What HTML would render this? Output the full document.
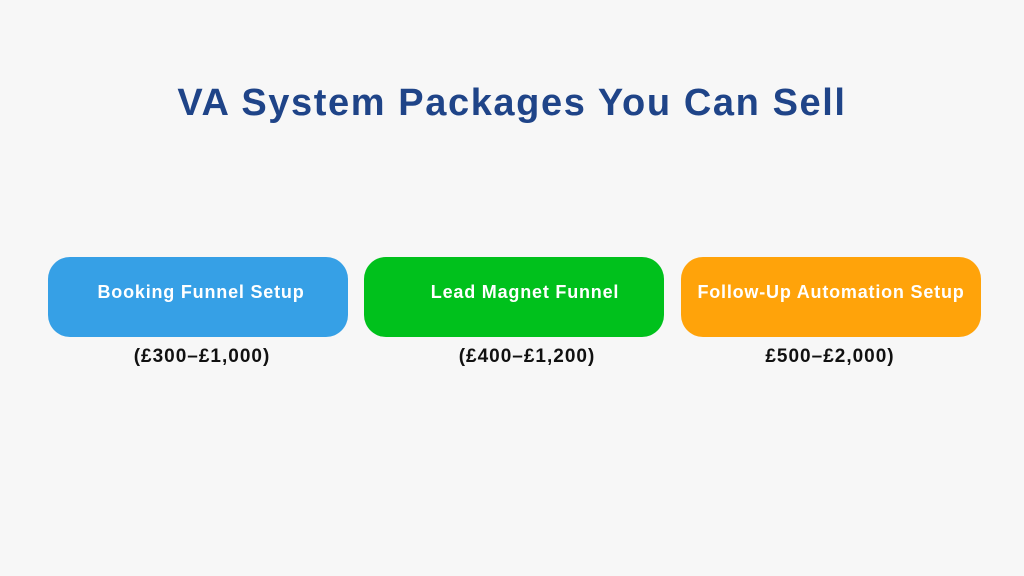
<!DOCTYPE html>
<html><head><style>
body{margin:0;width:1024px;height:576px;background:#f7f7f7;font-family:"Liberation Sans",sans-serif;position:relative;overflow:hidden}
h1{position:absolute;top:82px;left:0;width:1024px;text-align:center;margin:0;font-size:38px;font-weight:bold;color:#1f4488;letter-spacing:1.6px}
.b{position:absolute;top:257px;width:300px;height:80px;border-radius:22px;color:#fff;font-weight:bold;font-size:18px;letter-spacing:0.8px;text-align:center;line-height:70px;white-space:nowrap}
.p{position:absolute;top:346px;width:300px;text-align:center;font-weight:bold;font-size:19px;letter-spacing:1px;color:#111}
</style></head><body>
<h1>VA System Packages You Can Sell</h1>
<div class="b" style="left:48px;background:#36a0e6;padding-left:6px;width:294px">Booking Funnel Setup</div>
<div class="b" style="left:364px;background:#00c11c;padding-left:22px;width:278px">Lead Magnet Funnel</div>
<div class="b" style="left:681px;background:#ffa30a">Follow-Up Automation Setup</div>
<div class="p" style="left:52px">(£300–£1,000)</div>
<div class="p" style="left:377px">(£400–£1,200)</div>
<div class="p" style="left:680px">£500–£2,000)</div>
</body></html>
